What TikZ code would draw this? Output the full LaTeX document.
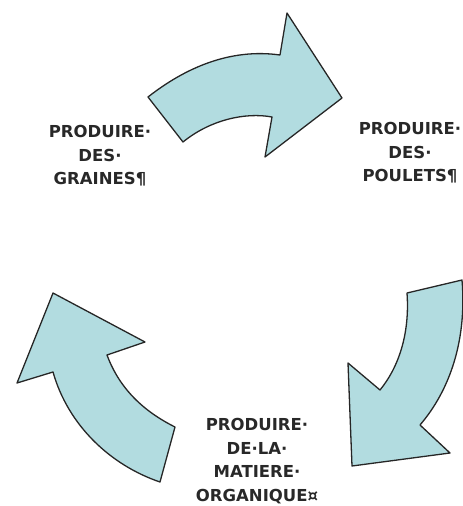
\documentclass[tikz,border=0pt]{standalone}
\usepackage{fontspec}
\setmainfont{DejaVu Sans}
\definecolor{bleuclair}{RGB}{178,220,224}
\definecolor{texte}{RGB}{40,40,40}
\tikzset{
	fleche/.style={draw=black!85,fill=bleuclair,line width=1.3pt,line join=round},
	etiquette/.style={align=center,inner sep=0pt,text=texte,
		font=\fontsize{16.5}{23.5}\selectfont\bfseries}
}
\begin{document}
\begin{tikzpicture}[x=1pt,y=-1pt]
		\useasboundingbox (0,0) rectangle (463,506);
		\path
		%========fleche du haut
		(148,97) coordinate (h1)
		(183,142) coordinate (h2)
		(272,117) coordinate (h3)
		(265,157) coordinate (h4)
		(342,98) coordinate (h5)
		(287,13) coordinate (h6)
		(280,55) coordinate (h7)
		%========fleche de droite
		(407,293) coordinate (d1)
		(462,280) coordinate (d2)
		(420,425) coordinate (d3)
		(450,453) coordinate (d4)
		(352,466) coordinate (d5)
		(348,363) coordinate (d6)
		(380,390) coordinate (d7)
		%========fleche de gauche
		(53,293) coordinate (g1)
		(145,342) coordinate (g2)
		(107,355) coordinate (g3)
		(175,427) coordinate (g4)
		(160,482) coordinate (g5)
		(53,372) coordinate (g6)
		(17,383) coordinate (g7)
		;
		\draw[fleche] (h1)--(h2) .. controls (210,120) and (245,112) .. (h3)
		--(h4)--(h5)--(h6)--(h7) .. controls (230,48) and (185,68) .. (h1)--cycle;
		\draw[fleche] (d1)--(d2) .. controls (467,340) and (450,390) .. (d3)
		--(d4)--(d5)--(d6)--(d7) .. controls (398,368) and (410,335) .. (d1)--cycle;
		\draw[fleche] (g1)--(g2)--(g3) .. controls (120,390) and (145,412) .. (g4)
		--(g5) .. controls (110,465) and (68,425) .. (g6)--(g7)--cycle;
		%========textes
		\node[etiquette] (graines) at (100,156) {PRODUIRE·\\DES·\\GRAINES¶};
		\node[etiquette] (poulets) at (410,153) {PRODUIRE·\\DES·\\POULETS¶};
		\node[etiquette] (matiere) at (257,461) {PRODUIRE·\\DE·LA·\\MATIERE·\\ORGANIQUE¤};
		\end{tikzpicture}
\end{document}
